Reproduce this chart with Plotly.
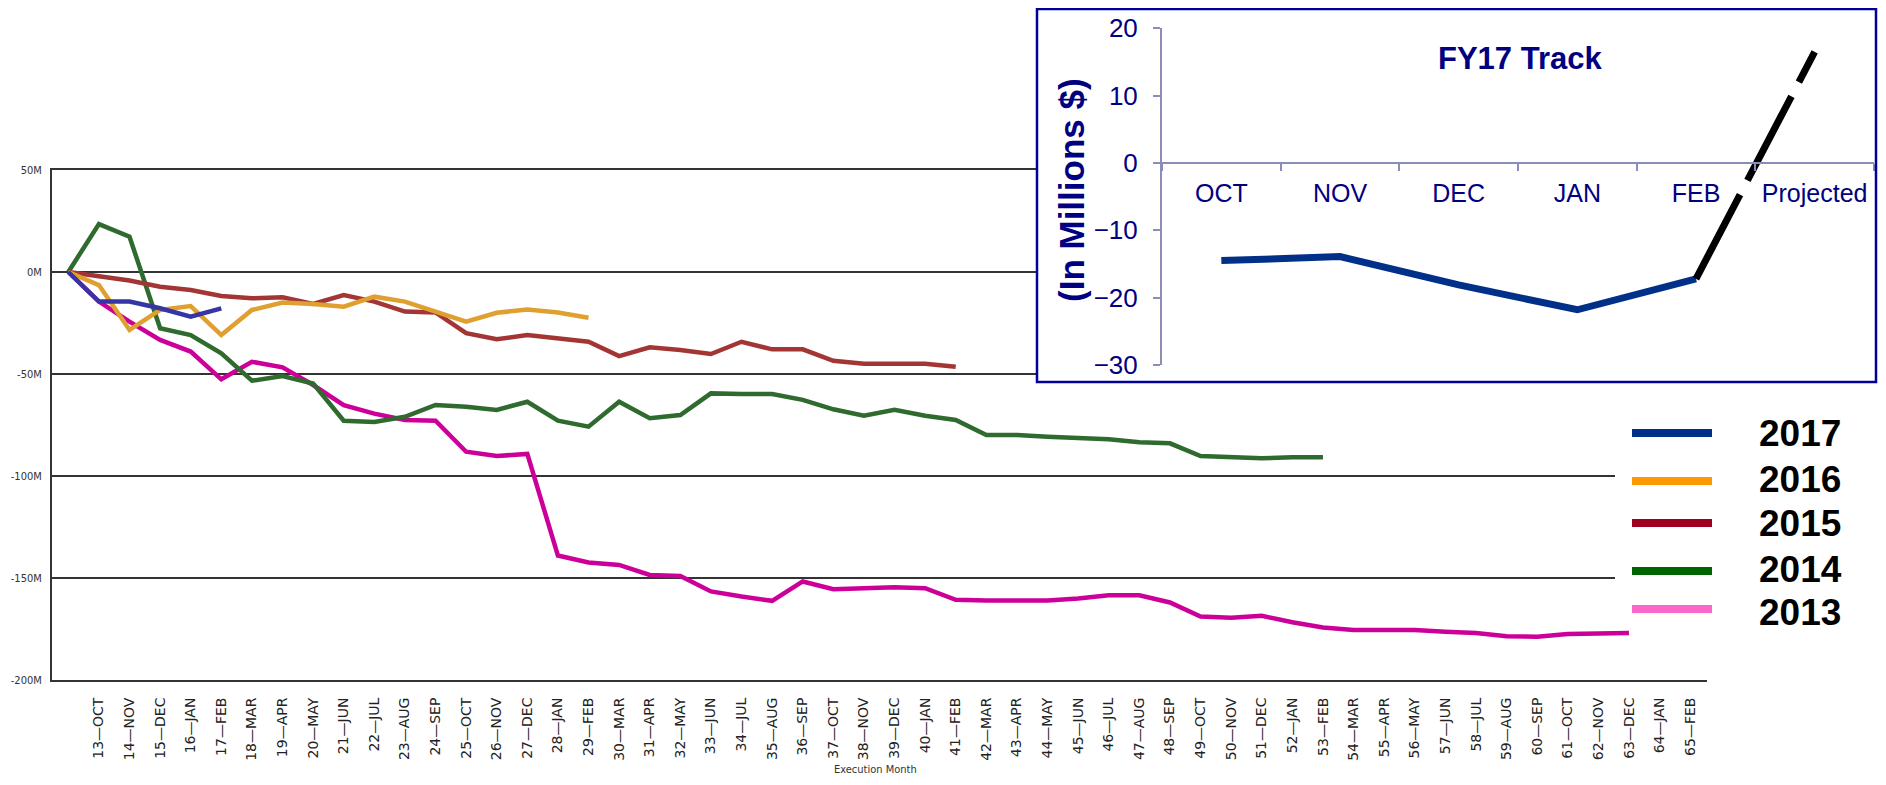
import plotly.graph_objects as go

# The page adds an 8px body margin, so the figure is drawn 8px in from the
# window corner; all layout positions below are given in window pixels.
WIN_W, WIN_H = 1886, 785
OFF = 8
W, H = WIN_W - 2 * OFF, WIN_H - 2 * OFF

# ---------------- data ----------------
month_labels = [
    "13—OCT", "14—NOV", "15—DEC", "16—JAN", "17—FEB", "18—MAR", "19—APR", "20—MAY", "21—JUN", "22—JUL", "23—AUG", "24—SEP",
    "25—OCT", "26—NOV", "27—DEC", "28—JAN", "29—FEB", "30—MAR", "31—APR", "32—MAY", "33—JUN", "34—JUL", "35—AUG", "36—SEP",
    "37—OCT", "38—NOV", "39—DEC", "40—JAN", "41—FEB", "42—MAR", "43—APR", "44—MAY", "45—JUN", "46—JUL", "47—AUG", "48—SEP",
    "49—OCT", "50—NOV", "51—DEC", "52—JAN", "53—FEB", "54—MAR", "55—APR", "56—MAY", "57—JUN", "58—JUL", "59—AUG", "60—SEP",
    "61—OCT", "62—NOV", "63—DEC", "64—JAN", "65—FEB",
]
month_ticks = list(range(13, 66))          # execution month numbers carrying a label
start_month = 12                           # every series starts one month before 13—OCT

y_tickvals = [-200, -150, -100, -50, 0, 50]
y_ticktext = ["-200M", "-150M", "-100M", "-50M", "0M", "50M"]

fy2017 = [0, -14.5, -14.5, -17.8, -21.9, -17.8]
fy2016 = [0, -6.4, -28.4, -18.6, -16.7, -30.9, -18.6, -15, -15.7, -17, -12.1, -14.5,
          -19.4, -24.3, -20, -18.4, -19.9, -22.4]
fy2015 = [0, -2.1, -4.2, -7.2, -8.8, -11.8, -12.9, -12.4, -15.7, -11.3, -14.5, -19.4,
          -19.8, -30, -33, -30.9, -32.5, -34.2, -41.2, -36.9, -38.2, -40.2, -34.2, -37.9,
          -37.9, -43.5, -45, -45, -45, -46.5]
fy2014 = [0, 23.5, 17.3, -27.6, -30.9, -39.9, -53.3, -51, -54.7, -72.9, -73.5, -71,
          -65.2, -66, -67.6, -63.6, -72.9, -75.8, -63.6, -71.7, -70.1, -59.5, -59.8, -59.8,
          -62.7, -67.3, -70.5, -67.6, -70.5, -72.5, -79.9, -79.9, -80.7, -81.2, -82, -83.5,
          -84, -90.2, -90.5, -91.3, -90.8, -90.8]
fy2013 = [0, -14.5, -24.3, -33.3, -39, -52.6, -44, -46.7, -55.4, -65.3, -69.4, -72.5,
          -72.9, -88.1, -90.2, -89.2, -139, -142.4, -143.6, -148.5, -149, -156.6, -159.1, -161.2,
          -151.7, -155.5, -155, -154.5, -155, -160.7, -161, -161, -161, -160, -158.5, -158.5,
          -162, -168.9, -169.5, -168.5, -171.7, -174.3, -175.5, -175.5, -175.5, -176.4, -177, -178.5,
          -178.8, -177.5, -177, -177]

series_names = ["2013", "2014", "2015", "2016", "2017"]
series_values = [fy2013, fy2014, fy2015, fy2016, fy2017]
line_colors = ["#cc0099", "#2f6a2f", "#a33535", "#e0a030", "#3535a5"]
legend_names = ["2017", "2016", "2015", "2014", "2013"]
legend_colors = ["#003087", "#ff9900", "#a00020", "#006400", "#ff66cc"]

inset_months = ["OCT", "NOV", "DEC", "JAN", "FEB", "Projected"]
inset_actual = [-14.5, -13.9, -18.1, -21.8, -17.2]
inset_projection = [-17.2, 16.5]


def px(x):
    return (x - OFF) / W


def py(y):
    return 1 - (y - OFF) / H


fig = go.Figure()

# main chart lines
for name, vals, col in zip(series_names, series_values, line_colors):
    xs = [start_month + k for k in range(len(vals))]
    fig.add_trace(go.Scatter(x=xs, y=vals, mode="lines", name=name,
                             line=dict(color=col, width=4.5),
                             xaxis="x", yaxis="y", showlegend=False, hoverinfo="skip"))

# blank subplot: white box of the inset
fig.add_trace(go.Scatter(x=[None], y=[None], xaxis="x2", yaxis="y2", showlegend=False, hoverinfo="skip"))
# inset chart
fig.add_trace(go.Scatter(x=inset_months[:5], y=inset_actual, mode="lines",
                         line=dict(color="#003087", width=7),
                         xaxis="x3", yaxis="y3", showlegend=False, hoverinfo="skip"))
fig.add_trace(go.Scatter(x=inset_months[4:6], y=inset_projection, mode="lines",
                         line=dict(color="#000000", width=7, dash="95px,16px"),
                         xaxis="x3", yaxis="y3", showlegend=False, hoverinfo="skip"))
# blank subplot: white box behind the legend
fig.add_trace(go.Scatter(x=[None], y=[None], xaxis="x4", yaxis="y4", showlegend=False, hoverinfo="skip"))

blank_axis = dict(showticklabels=False, showgrid=False, zeroline=False, showline=False,
                  ticks="", range=[0, 1], fixedrange=True)

navy = "#000080"
inset_line = "#8c8cb8"
arial = "Liberation Sans, Arial, sans-serif"
narrow = "DejaVu Sans Condensed, Liberation Sans Narrow, DejaVu Sans"

fig.update_layout(
    width=W, height=H,
    margin=dict(l=0, r=0, t=0, b=0),
    paper_bgcolor="white", plot_bgcolor="white",
    showlegend=False,
    xaxis=dict(domain=[px(52), px(1707)], range=[11.467, 65.55], anchor="y",
               tickmode="array", tickvals=month_ticks, ticktext=month_labels,
               tickangle=-90, ticks="", ticklabelstandoff=10,
               tickfont=dict(family="DejaVu Sans", size=14, color="#222222"),
               showgrid=False, zeroline=False,
               showline=True, mirror=True, linecolor="#333333", linewidth=2,
               automargin=False),
    yaxis=dict(domain=[py(680), py(170)], range=[-200, 50], anchor="x",
               tickmode="array", tickvals=y_tickvals, ticktext=y_ticktext,
               ticks="", ticklabelstandoff=6,
               tickfont=dict(family=narrow, size=11, color="#333333"),
               showgrid=True, gridcolor="#333333", gridwidth=2, zeroline=False,
               showline=True, linecolor="#333333", linewidth=2, automargin=False),
    xaxis2=dict(domain=[px(1037), 1.0], anchor="y2", **blank_axis),
    yaxis2=dict(domain=[py(382), 1.0], anchor="x2", **blank_axis),
    xaxis3=dict(domain=[px(1162), px(1874)], type="category",
                categoryorder="array", categoryarray=inset_months,
                range=[-0.5, 5.5], anchor="free", position=py(163),
                showline=True, linecolor=inset_line, linewidth=2,
                ticks="outside", tickson="boundaries", ticklen=7, tickwidth=2, tickcolor=inset_line,
                ticklabelstandoff=8,
                tickfont=dict(family=arial, size=25, color=navy),
                showgrid=False, zeroline=False, automargin=False),
    yaxis3=dict(domain=[py(365), py(28.3)], range=[-30, 20], anchor="x3",
                tickmode="array", tickvals=[-30, -20, -10, 0, 10, 20],
                showline=True, linecolor=inset_line, linewidth=2,
                ticks="outside", ticklen=7, tickwidth=2, tickcolor=inset_line,
                ticklabelstandoff=10,
                tickfont=dict(family=arial, size=26, color=navy),
                showgrid=False, zeroline=False, automargin=False),
    xaxis4=dict(domain=[px(1615), 1.0], anchor="y4", **blank_axis),
    yaxis4=dict(domain=[py(630), py(392)], anchor="x4", **blank_axis),
)

shapes = [
    dict(type="rect", xref="paper", yref="paper",
         x0=px(1037), x1=px(1876), y0=py(382), y1=py(9),
         line=dict(color="#000099", width=2.5), fillcolor="rgba(0,0,0,0)", layer="above"),
]
legend_y = [433, 481, 523, 571, 609]
text_y = [433, 479, 523, 569, 612]
for lname, lcol, ly in zip(legend_names, legend_colors, legend_y):
    shapes.append(dict(type="line", xref="paper", yref="paper",
                       x0=px(1632), x1=px(1712), y0=py(ly), y1=py(ly),
                       line=dict(color=lcol, width=8), layer="above"))

annotations = [
    dict(text="<b>FY17 Track</b>", xref="paper", yref="paper", x=px(1520), y=py(58),
         showarrow=False, font=dict(family=arial, size=31, color=navy),
         xanchor="center", yanchor="middle"),
    dict(text="<b>(In Millions $)</b>", xref="paper", yref="paper", x=px(1072), y=py(190),
         showarrow=False, textangle=-90, font=dict(family=arial, size=35, color=navy),
         xanchor="center", yanchor="middle"),
    dict(text="Execution Month", xref="paper", yref="paper", x=px(875), y=py(769),
         showarrow=False, font=dict(family=narrow, size=11, color="#333333"),
         xanchor="center", yanchor="middle"),
]
for lname, ty in zip(legend_names, text_y):
    annotations.append(dict(text="<b>%s</b>" % lname, xref="paper", yref="paper",
                            x=px(1800), y=py(ty), showarrow=False,
                            font=dict(family=arial, size=37, color="#000000"),
                            xanchor="center", yanchor="middle"))

fig.update_layout(shapes=shapes, annotations=annotations)

fig.write_html("out.html")
